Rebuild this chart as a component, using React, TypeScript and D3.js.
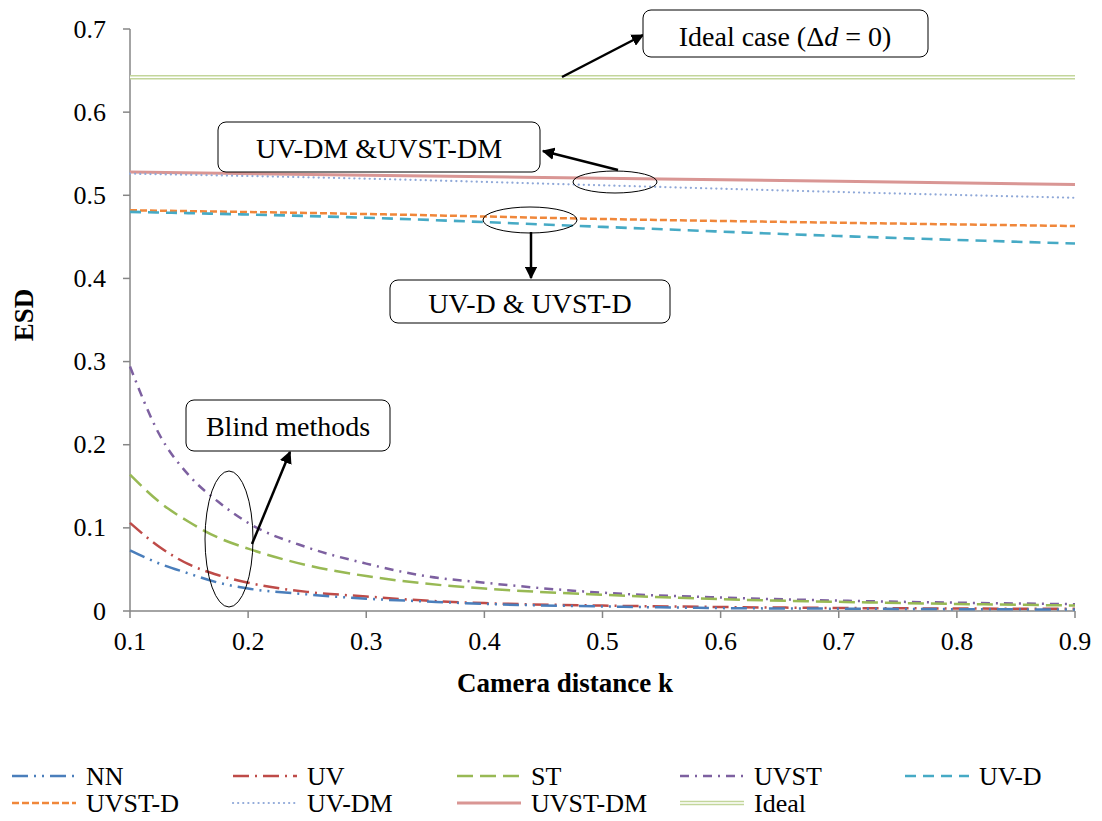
import React from "react";
import * as d3 from "d3";

// Camera distance samples for the blind methods (dense near 0.1 where curves drop fast)
const kFine = [0.1, 0.125, 0.15, 0.175, 0.2, 0.25, 0.3, 0.35, 0.4, 0.5, 0.6, 0.7, 0.8, 0.9];
const nnValues = [0.073, 0.057, 0.045, 0.034, 0.027, 0.02, 0.0148, 0.0115, 0.0085, 0.0055, 0.0035, 0.0028, 0.0022, 0.0018];
const uvValues = [0.106, 0.077, 0.056, 0.043, 0.034, 0.023, 0.0175, 0.0125, 0.0095, 0.0065, 0.0048, 0.0036, 0.003, 0.0026];
const stValues = [0.164, 0.131, 0.107, 0.088, 0.075, 0.055, 0.042, 0.033, 0.027, 0.0195, 0.0142, 0.011, 0.0085, 0.0066];
const uvstValues = [0.294, 0.212, 0.163, 0.131, 0.106, 0.0765, 0.057, 0.042, 0.034, 0.022, 0.0162, 0.0125, 0.01, 0.0082];

// Depth-aware methods vary slowly, coarse samples suffice
const kCoarse = [0.1, 0.3, 0.5, 0.7, 0.9];
const uvDValues = [0.48, 0.473, 0.462, 0.451, 0.442];
const uvstDValues = [0.482, 0.4775, 0.4715, 0.467, 0.463];
const uvDmValues = [0.526, 0.52, 0.512, 0.504, 0.497];
const uvstDmValues = [0.528, 0.524, 0.5205, 0.517, 0.513];
const idealValues = [0.642, 0.642, 0.642, 0.642, 0.642];

const xTicks = [0.1, 0.2, 0.3, 0.4, 0.5, 0.6, 0.7, 0.8, 0.9];
const xTickLabels = ["0.1", "0.2", "0.3", "0.4", "0.5", "0.6", "0.7", "0.8", "0.9"];
const yTicks = [0, 0.1, 0.2, 0.3, 0.4, 0.5, 0.6, 0.7];
const yTickLabels = ["0", "0.1", "0.2", "0.3", "0.4", "0.5", "0.6", "0.7"];

const seriesNames = ["NN", "UV", "ST", "UVST", "UV-D", "UVST-D", "UV-DM", "UVST-DM", "Ideal"];

type Style = { color: string; width: number; dash?: string; cap?: "round" | "butt"; double?: boolean };

const styles: Record<string, Style> = {
  NN: { color: "#4a7ebb", width: 2.5, dash: "16 6 2 6 2 6" },
  UV: { color: "#be4b48", width: 2.5, dash: "16 6 2 6" },
  ST: { color: "#98b954", width: 2.5, dash: "16 7" },
  UVST: { color: "#7d60a0", width: 2.5, dash: "9 6 2 6" },
  "UV-D": { color: "#46aac5", width: 2.6, dash: "11 7" },
  "UVST-D": { color: "#f0873a", width: 2.5, dash: "7 3" },
  "UV-DM": { color: "#8fa8d8", width: 2.2, dash: "0.1 5", cap: "round" },
  "UVST-DM": { color: "#d99694", width: 3 },
  Ideal: { color: "#c3d69b", width: 4.5, double: true },
};

const seriesData: Record<string, { k: number[]; v: number[] }> = {
  NN: { k: kFine, v: nnValues },
  UV: { k: kFine, v: uvValues },
  ST: { k: kFine, v: stValues },
  UVST: { k: kFine, v: uvstValues },
  "UV-D": { k: kCoarse, v: uvDValues },
  "UVST-D": { k: kCoarse, v: uvstDValues },
  "UV-DM": { k: kCoarse, v: uvDmValues },
  "UVST-DM": { k: kCoarse, v: uvstDmValues },
  Ideal: { k: kCoarse, v: idealValues },
};

const W = 1102;
const H = 821;
const serif = "Liberation Serif, Tinos, Times New Roman, Times, DejaVu Serif, Noto Serif, serif";
const axisColor = "#868686";

function StyledPath({ d, s }: { d: string; s: Style }) {
  if (s.double) {
    return (
      <g>
        <path d={d} fill="none" stroke={s.color} strokeWidth={s.width} />
        <path d={d} fill="none" stroke="#ffffff" strokeWidth={1.4} />
      </g>
    );
  }
  return (
    <path
      d={d}
      fill="none"
      stroke={s.color}
      strokeWidth={s.width}
      strokeDasharray={s.dash}
      strokeLinecap={s.cap || "butt"}
    />
  );
}

export default function App() {
  const x = d3.scaleLinear().domain([0.1, 0.9]).range([130, 1075]);
  const y = d3.scaleLinear().domain([0, 0.7]).range([611, 29]);

  const line = d3
    .line<[number, number]>()
    .x((p) => x(p[0]))
    .y((p) => y(p[1]))
    .curve(d3.curveMonotoneX);

  const drawOrder = ["Ideal", "UVST-DM", "UV-DM", "UVST-D", "UV-D", "UVST", "ST", "UV", "NN"];

  const legendCols = [12, 233, 457, 680, 905];
  const legendRows = [776, 803];

  return (
    <svg
      width={W}
      height={H}
      viewBox={`0 0 ${W} ${H}`}
      style={{ position: "absolute", left: 0, top: 0, background: "#fff" }}
    >
      <defs>
        <marker id="arrowHead" viewBox="0 0 10 10" refX="9" refY="5" markerWidth="5" markerHeight="5" orient="auto">
          <path d="M0,0 L10,5 L0,10 z" fill="#000" />
        </marker>
      </defs>
      <rect x={0} y={0} width={W} height={H} fill="#fff" />

      {/* axes */}
      <line x1={x(0.1)} x2={x(0.1)} y1={y(0)} y2={y(0.7)} stroke={axisColor} strokeWidth={1.5} />
      <line x1={x(0.1)} x2={x(0.9)} y1={y(0)} y2={y(0)} stroke={axisColor} strokeWidth={1.5} />
      {yTicks.map((t, i) => (
        <g key={`yt${i}`}>
          <line x1={x(0.1) - 7} x2={x(0.1)} y1={y(t)} y2={y(t)} stroke={axisColor} strokeWidth={1.5} />
          <text fontFamily={serif} x={106} y={y(t)} textAnchor="end" dominantBaseline="central" fontSize={26} fill="#000">
            {yTickLabels[i]}
          </text>
        </g>
      ))}
      {xTicks.map((t, i) => (
        <g key={`xt${i}`}>
          <line x1={x(t)} x2={x(t)} y1={y(0)} y2={y(0) + 7} stroke={axisColor} strokeWidth={1.5} />
          <text fontFamily={serif} x={x(t)} y={641} textAnchor="middle" dominantBaseline="central" fontSize={26} fill="#000">
            {xTickLabels[i]}
          </text>
        </g>
      ))}
      <text fontFamily={serif} x={565} y={683} textAnchor="middle" dominantBaseline="central" fontSize={27} fontWeight="bold">
        Camera distance k
      </text>
      <text
        fontFamily={serif}
        transform={`translate(24,315) rotate(-90)`}
        textAnchor="middle"
        dominantBaseline="central"
        fontSize={27}
        fontWeight="bold"
      >
        ESD
      </text>

      {/* series */}
      {drawOrder.map((name) => {
        const sd = seriesData[name];
        const pts = sd.k.map((k, i) => [k, sd.v[i]] as [number, number]);
        return <StyledPath key={name} d={line(pts) || ""} s={styles[name]} />;
      })}

      {/* annotations */}
      <g stroke="#000" fill="none">
        <line x1={562} y1={77} x2={643} y2={35} strokeWidth={2.5} markerEnd="url(#arrowHead)" />
        <rect x={643} y={10} width={285} height={47} rx={8} fill="#fff" strokeWidth={1} />

        <ellipse cx={615} cy={182} rx={42} ry={11} strokeWidth={1} />
        <line x1={618} y1={170} x2={543} y2={151} strokeWidth={2.5} markerEnd="url(#arrowHead)" />
        <rect x={218} y={122} width={322} height={50} rx={8} fill="#fff" strokeWidth={1} />

        <ellipse cx={530} cy={220} rx={47} ry={13} strokeWidth={1} />
        <line x1={531} y1={232} x2={531} y2={278} strokeWidth={2.5} markerEnd="url(#arrowHead)" />
        <rect x={390} y={280} width={280} height={43} rx={8} fill="#fff" strokeWidth={1} />

        <ellipse cx={229} cy={539} rx={24} ry={68} strokeWidth={1} />
        <line x1={252} y1={544} x2={290} y2={452} strokeWidth={2.5} markerEnd="url(#arrowHead)" />
        <rect x={186} y={400} width={204} height={51} rx={8} fill="#fff" strokeWidth={1} />
      </g>
      <g fill="#000" fontSize={28} textAnchor="middle" dominantBaseline="central" fontFamily={serif}>
        <text x={785} y={36}>
          Ideal case (Δ<tspan fontStyle="italic">d</tspan> = 0)
        </text>
        <text x={379} y={148}>UV-DM &amp;UVST-DM</text>
        <text x={530} y={303}>UV-D &amp; UVST-D</text>
        <text x={288} y={426}>Blind methods</text>
      </g>

      {/* legend */}
      {seriesNames.map((name, i) => {
        const col = legendCols[i % 5];
        const row = legendRows[Math.floor(i / 5)];
        const d = `M${col},${row}L${col + 64},${row}`;
        return (
          <g key={`lg${name}`}>
            <StyledPath d={d} s={styles[name]} />
            <text fontFamily={serif} x={col + 74} y={row} dominantBaseline="central" fontSize={26} fill="#000">
              {name}
            </text>
          </g>
        );
      })}
    </svg>
  );
}
